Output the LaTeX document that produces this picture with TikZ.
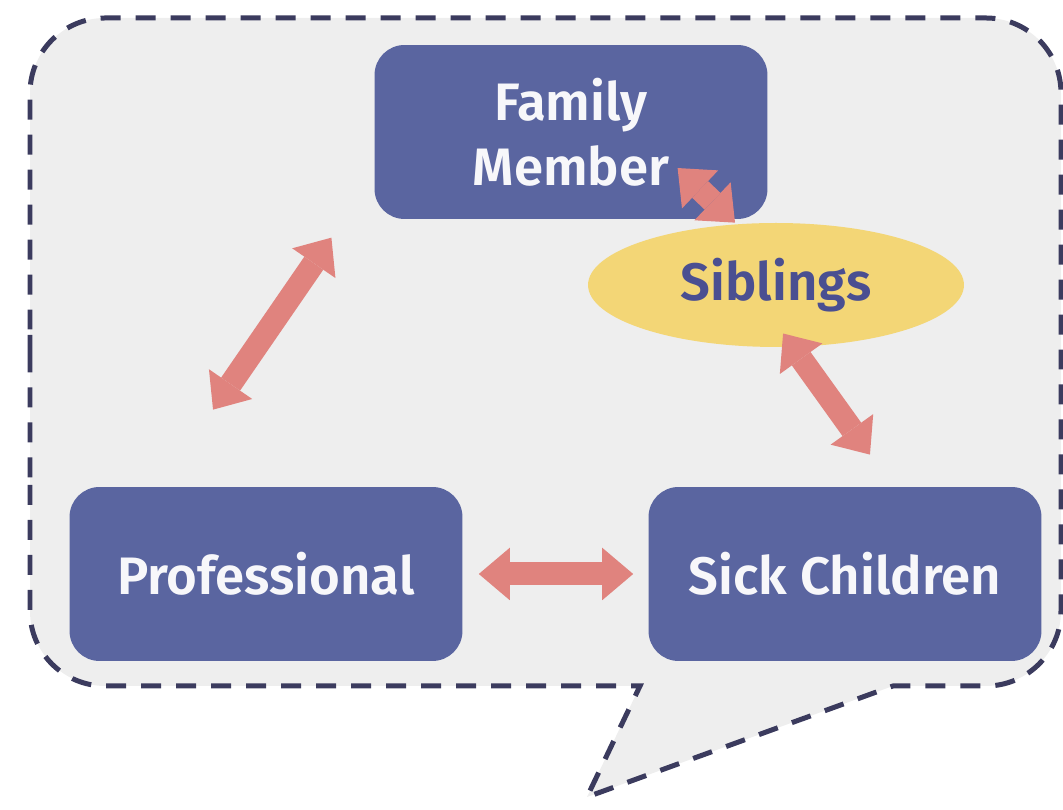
\documentclass[tikz,border=0pt]{standalone}
\usepackage{fontspec}
\IfFontExistsTF{Fira Sans SemiBold}
  {\setmainfont{Fira Sans}[BoldFont={Fira Sans SemiBold}]}
  {\setmainfont{Fira Sans}}
\usetikzlibrary{arrows.meta}
\usetikzlibrary{shapes.geometric}

\definecolor{boxblue}{RGB}{90,101,160}
\definecolor{arrowpink}{RGB}{224,131,126}
\definecolor{sibyellow}{RGB}{243,214,118}
\definecolor{bubblegray}{RGB}{238,238,238}
\definecolor{dashnavy}{RGB}{59,59,94}
\definecolor{sibtext}{RGB}{74,79,145}

\begin{document}
\begin{tikzpicture}[x=0.02cm, y=0.02cm,
  role/.style={fill=boxblue, rounded corners=0.6cm, text=white!95!boxblue,
    minimum width=7.86cm, minimum height=3.48cm, align=center,
    font=\fontsize{30}{37}\selectfont\bfseries},
  sib/.style={ellipse, fill=sibyellow, text=sibtext, inner sep=0pt,
    minimum width=7.52cm, minimum height=2.48cm,
    font=\fontsize{30}{37}\selectfont\bfseries},
  link/.style={draw=arrowpink, line width=0.46cm,
    {Triangle[width=1.05cm,length=0.62cm,line width=0pt]}-{Triangle[width=1.05cm,length=0.62cm,line width=0pt]}}]
\useasboundingbox (0,0) rectangle (1063,810);

% speech bubble
\draw [fill=bubblegray, draw=dashnavy, line width=0.1cm, dash pattern=on 0.4cm off 0.3cm]
  (30,400) [rounded corners=1.5cm] -- (30,124) [sharp corners] -- (640,124) -- (587,13)
  -- (893,124) [rounded corners=1.5cm] -- (1061,124) -- (1061,792) -- (30,792) -- (30,400) -- cycle;

\node [role] (fam) at (571,678) {Family\\Member};
\node [role] (prof) at (266,236) {Professional};
\node [role] (sick) at (845,236) {Sick Children};
\node [sib] (sibl) at (776,525) {Siblings};

\draw [link, shorten <=1.51cm, shorten >=1.87cm] ([yshift=-0.87cm]fam.west) -- ([xshift=-2.12cm]prof.north);
\draw [link, shorten <=0.32cm, shorten >=0.3cm] (prof.east) -- (sick.west);
\draw [link, shorten <=-0.34cm, shorten >=0.79cm] ([xshift=0.34cm]sibl.south) -- ([xshift=0.96cm]sick.north);
\draw [link, shorten <=3.58cm] ([xshift=-0.46cm]fam.north) -- ([xshift=-0.82cm]sibl.north);
\end{tikzpicture}
\end{document}
